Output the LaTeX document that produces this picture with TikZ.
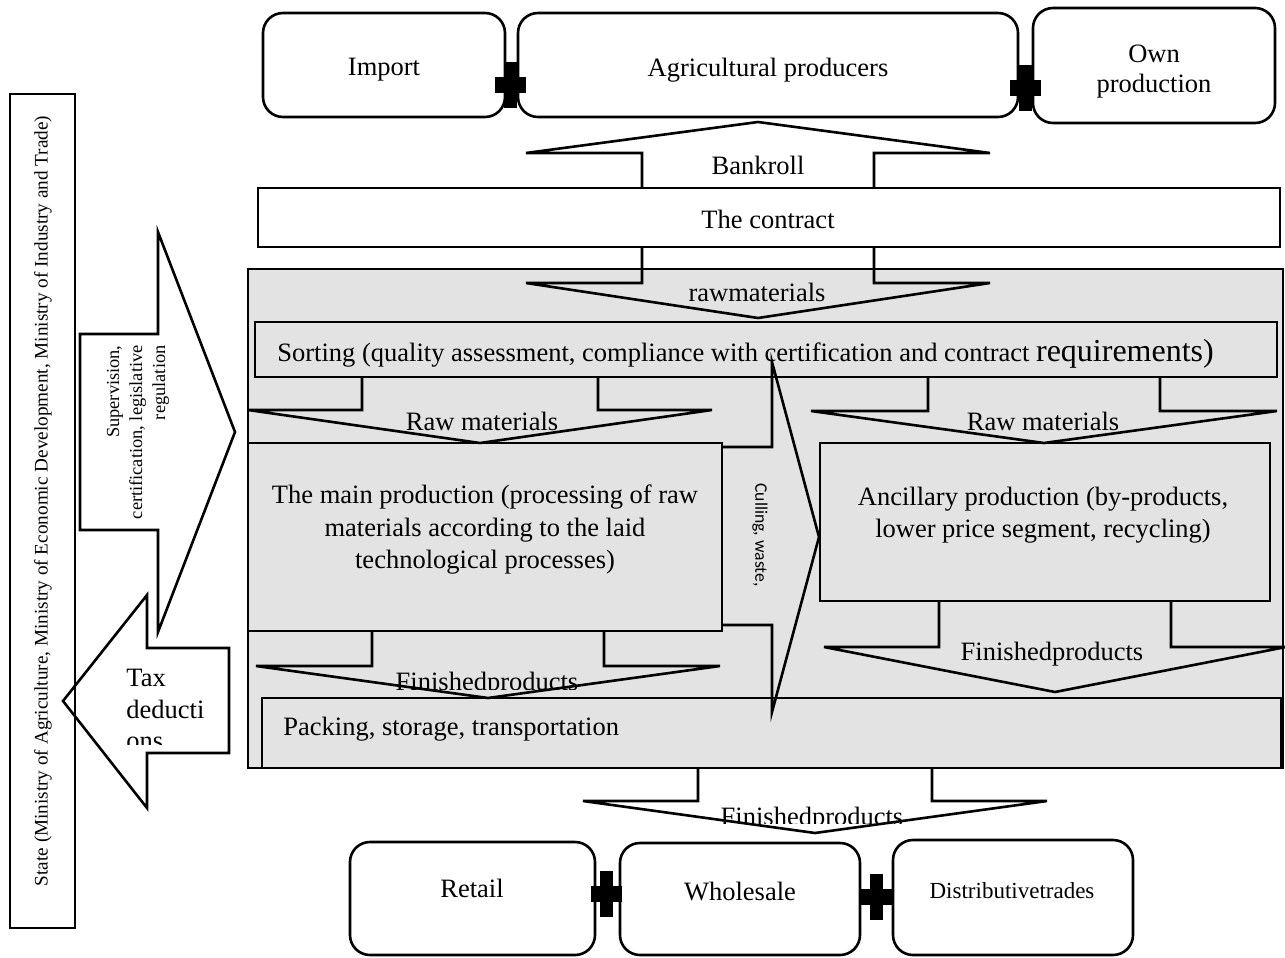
\documentclass[tikz,border=0pt]{standalone}
\usepackage{fontspec}
\setmainfont{Liberation Serif}
\newfontfamily\cullingfont{Carlito}
\usetikzlibrary{fit}
\definecolor{shade}{gray}{0.89}
\newcommand{\fsmain}{\fontsize{13.25pt}{16pt}\selectfont}
% vertical block arrow: centre x, half shaft, half head, base y, shoulder y, tip y
\newcommand{\vblock}[6]{\draw[blk] (#1-#2,#4) -- (#1-#2,#5) -- (#1-#3,#5) -- (#1,#6) -- (#1+#3,#5) -- (#1+#2,#5) -- (#1+#2,#4);}
% black plus joining two boxes
\newcommand{\plussign}[2]{\fill (#1-6.5,#2-23) rectangle (#1+6.5,#2+23); \fill (#1-15.5,#2-8) rectangle (#1+15.5,#2+8);}
\begin{document}
\begin{tikzpicture}[x=0.5pt,y=-0.5pt,
  boxline/.style={draw, line width=1.3pt, inner sep=0pt},
  rbox/.style={boxline, rounded corners=10pt, fill=white},
  blk/.style={line width=1.3pt, line join=miter},
  txt/.style={font=\fsmain, inner sep=0pt, anchor=base},
]
\useasboundingbox (0,0) rectangle (1285,958);

% shaded enterprise area
\node[boxline, fill=shade, fit={(248,269) (1283,768)}] (plant) {};

% state column
\node[boxline, fit={(10,94) (75,928)}] (state) {};
\node[rotate=90, inner sep=0pt, font=\fontsize{9.6pt}{11pt}\selectfont] (statetxt) at (43,501)
  {State (Ministry of Agriculture, Ministry of Economic Development, Ministry of Industry and Trade)};

% suppliers
\node[rbox, fit={(263,13) (505,117)}] (import) {};
\node[rbox, fit={(518,13) (1018,117)}] (agri) {};
\node[rbox, fit={(1033,8) (1275,123)}] (own) {};
\node[txt] (importtxt) at (384,75) {Import};
\node[txt] (agritxt) at (768,76) {Agricultural producers};
\node[txt] (owntxt1) at (1154,62) {Own};
\node[txt] (owntxt2) at (1154,92) {production};
\plussign{510}{85}
\plussign{1025}{88}

% contract
\node[boxline, fit={(258,188) (1280,247)}] (contract) {};
\node[txt] (contracttxt) at (768,228) {The contract};

% stages
\node[boxline, fit={(255,322) (1277,377)}] (sort) {};
\node[txt, anchor=base west] (sorttxt) at (277,361)
  {Sorting (quality assessment, compliance with certification and contract {\fontsize{16pt}{17pt}\selectfont requirements)}};
\node[boxline, fit={(248,443) (722,631)}] (mainprod) {};
\node[txt] (main1) at (485,503) {The main production (processing of raw};
\node[txt] (main2) at (485,536) {materials according to the laid};
\node[txt] (main3) at (485,568) {technological processes)};
\node[boxline, fit={(820,443) (1270,601)}] (anc) {};
\node[txt] (anc1) at (1043,505) {Ancillary production (by-products,};
\node[txt] (anc2) at (1043,537) {lower price segment, recycling)};

% flows
\vblock{758}{116}{232}{188}{153}{122}
\node[txt] (bankroll) at (758,174) {Bankroll};
\vblock{758}{116}{232}{247}{283}{318}
\node[txt] (raw0) at (757,301) {rawmaterials};
\vblock{480}{118}{232}{377}{410}{443}
\node[txt] (raw1) at (482,430) {Raw materials};
\vblock{1044}{116}{233}{377}{411}{443}
\node[txt] (raw2) at (1043,430) {Raw materials};
\vblock{488}{116}{232}{631}{666}{698}
\begin{scope}
  \clip (250,600) rectangle (720,689);
  \node[txt] (fin1) at (487,690) {Finishedproducts};
\end{scope}
\vblock{1055}{116}{231}{601}{647}{692}
\node[txt] (fin2) at (1052,660) {Finishedproducts};

% packing
\node[boxline, fit={(262,698) (1281,768)}] (pack) {};
\node[txt, anchor=base west] (packtxt) at (283,735) {Packing, storage, transportation};

% culling and waste
\draw[blk] (722,447) -- (772,447) -- (772,362) -- (819,537) -- (772,712) -- (772,625) -- (722,625);
\node[rotate=-90, inner sep=0pt, font=\cullingfont\fontsize{8.8pt}{10pt}\selectfont] (cull) at (760,535) {Culling, waste,};

% state relations
\draw[blk, fill=white] (80,334) -- (158,334) -- (158,232) -- (235,432) -- (158,632) -- (158,530) -- (80,530) -- cycle;
\node[rotate=90, anchor=east, align=right, inner sep=0pt, font=\fontsize{9.2pt}{11.5pt}\selectfont] (superv) at (138,345)
  {Supervision,\\certification, legislative\\regulation};
\draw[blk] (229,648) -- (147,648) -- (147,595) -- (63,701) -- (147,808) -- (147,753) -- (229,753) -- cycle;
\begin{scope}
  \clip (120,650) rectangle (228,744);
  \node[txt, anchor=base west] (tax1) at (126,686) {Tax};
  \node[txt, anchor=base west] (tax2) at (126,718) {deducti};
  \node[txt, anchor=base west] (tax3) at (126,749) {ons};
\end{scope}

% sales channels
\vblock{815}{117}{232}{768}{801}{833}
\begin{scope}
  \clip (580,790) rectangle (1050,823);
  \node[txt] (fin3) at (812,825) {Finishedproducts};
\end{scope}
\node[rbox, fit={(350,842) (595,955)}] (retail) {};
\node[rbox, fit={(620,843) (860,955)}] (whole) {};
\node[rbox, fit={(893,840) (1133,955)}] (distr) {};
\node[txt] (retailtxt) at (472,897) {Retail};
\node[txt] (wholetxt) at (740,900) {Wholesale};
\node[txt, font=\fontsize{11.5pt}{14pt}\selectfont] (distrtxt) at (1012,898) {Distributivetrades};
\plussign{606}{894}
\plussign{876}{897}
\end{tikzpicture}
\end{document}
